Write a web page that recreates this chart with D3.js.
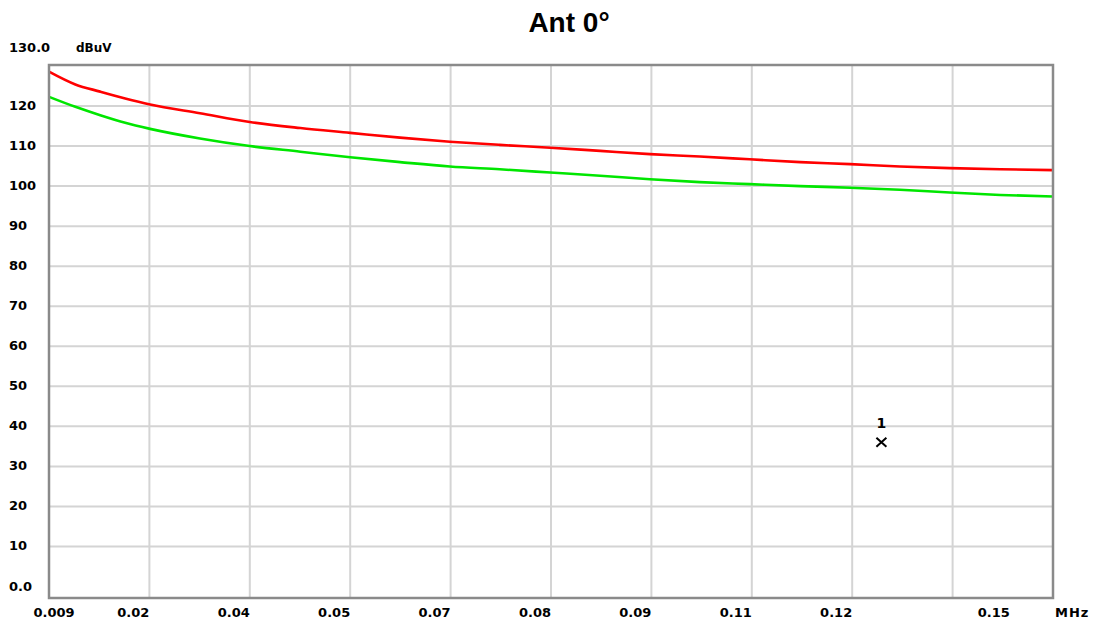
<!DOCTYPE html>
<html>
<head>
<meta charset="utf-8">
<script src="https://cdnjs.cloudflare.com/ajax/libs/d3/7.8.5/d3.min.js"></script>
<style>
  body { margin: 0; background: #fff; }
  svg { display: block; }
  .lbl { font-family: "DejaVu Sans", Verdana, sans-serif; font-weight: bold; font-size: 13px; fill: #000; }
</style>
</head>
<body>
<div class="content"></div>
<script>
// frequency (MHz) sample points
var freq = [0.009, 0.0127, 0.0162, 0.0197, 0.0232, 0.0302, 0.0372, 0.0443, 0.0513, 0.0583, 0.0653, 0.0723,
            0.0794, 0.0864, 0.0934, 0.1004, 0.1074, 0.1145, 0.1215, 0.1285, 0.1355, 0.1426, 0.15];
// level (dBuV)
var redTrace = [128.6, 125.4, 123.6, 121.9, 120.4, 118.2, 116.0, 114.5, 113.3, 112.1, 111.1, 110.3,
                109.6, 108.8, 108.0, 107.4, 106.7, 106.0, 105.5, 104.9, 104.5, 104.2, 104.0];
var greenTrace = [122.3, 119.8, 117.7, 115.8, 114.3, 111.9, 110.0, 108.6, 107.2, 106.0, 104.9, 104.2,
                  103.4, 102.6, 101.7, 101.0, 100.5, 100.0, 99.6, 99.1, 98.4, 97.8, 97.4];

var xTickLabels = ["0.009", "0.02", "0.04", "0.05", "0.07", "0.08", "0.09", "0.11", "0.12", "0.15"];
var yTicks = [120, 110, 100, 90, 80, 70, 60, 50, 40, 30, 20, 10, 0];
var yTickLabels = ["120", "110", "100", "90", "80", "70", "60", "50", "40", "30", "20", "10", "0.0"];

var markers = [{ name: "1", f: 0.1259, level: 36 }];

var W = 1094, H = 625;
var plotLeft = 49, plotRight = 1053, plotTop = 66, zeroY = 586.5, plotBottom = 598;

var svg = d3.select('.content').append('svg').attr('width', W).attr('height', H);

var x = d3.scaleLinear().domain([0.009, 0.15]).range([plotLeft, plotRight]);
var y = d3.scaleLinear().domain([0, 130]).range([zeroY, plotTop]);

var xGrid = d3.range(11).map(function(i) { return 0.009 + i * 0.0141; });

// grid (no line drawn at 0)
svg.append('g').selectAll('line').data(xGrid.slice(1, 10)).enter().append('line')
    .attr('x1', function(d) { return x(d); }).attr('x2', function(d) { return x(d); })
    .attr('y1', plotTop).attr('y2', plotBottom)
    .attr('stroke', '#d4d4d4').attr('stroke-width', 2);
svg.append('g').selectAll('line').data(yTicks.filter(function(d) { return d > 0; })).enter().append('line')
    .attr('x1', plotLeft).attr('x2', plotRight)
    .attr('y1', function(d) { return y(d); }).attr('y2', function(d) { return y(d); })
    .attr('stroke', '#d4d4d4').attr('stroke-width', 2);

// traces
var line = d3.line().curve(d3.curveMonotoneX)
    .x(function(d, i) { return x(freq[i]); }).y(function(d) { return y(d); });
svg.append('path').datum(greenTrace).attr('d', line)
    .attr('fill', 'none').attr('stroke', '#00e600').attr('stroke-width', 2.6);
svg.append('path').datum(redTrace).attr('d', line)
    .attr('fill', 'none').attr('stroke', '#ff0000').attr('stroke-width', 2.6);

// frame
svg.append('rect').attr('x', plotLeft).attr('y', plotTop - 1)
    .attr('width', plotRight - plotLeft).attr('height', plotBottom - plotTop + 1)
    .attr('fill', 'none').attr('stroke', '#8a8a8a').attr('stroke-width', 2.5);

// y labels
svg.append('g').selectAll('text').data(yTicks).enter().append('text')
    .attr('class', 'lbl').attr('x', 9).attr('y', function(d) { return y(d) + 4; })
    .text(function(d, i) { return yTickLabels[i]; });
svg.append('text').attr('class', 'lbl').attr('x', 9).attr('y', 52).text('130.0');
svg.append('text').attr('class', 'lbl').attr('x', 76).attr('y', 52).style('font-size', '12px').text('dBuV');

// x labels: right-aligned on the grid lines, first one centred, last one between lines
svg.append('g').selectAll('text').data(xTickLabels).enter().append('text')
    .attr('class', 'lbl')
    .attr('x', function(d, i) {
        if (i === 0) return x(xGrid[0]) + 5;
        if (i === 9) return (x(xGrid[9]) + x(xGrid[10])) / 2 - 9;
        return x(xGrid[i]);
    })
    .attr('text-anchor', function(d, i) { return (i === 0 || i === 9) ? 'middle' : 'end'; })
    .attr('y', 617)
    .text(function(d) { return d; });
svg.append('text').attr('class', 'lbl').attr('x', 1055).attr('y', 617).style('letter-spacing', '1px').text('MHz');

// marker
var mk = svg.append('g').selectAll('g').data(markers).enter().append('g');
mk.append('text').attr('class', 'lbl').attr('text-anchor', 'middle').style('font-size', '14px')
    .attr('x', function(d) { return x(d.f); }).attr('y', function(d) { return y(d.level) - 14; })
    .text(function(d) { return d.name; });
mk.append('path')
    .attr('d', function(d) {
        var cx = x(d.f), cy = y(d.level);
        return 'M' + (cx - 5) + ',' + (cy - 4.5) + 'L' + (cx + 5) + ',' + (cy + 4.5) +
               'M' + (cx + 5) + ',' + (cy - 4.5) + 'L' + (cx - 5) + ',' + (cy + 4.5);
    })
    .attr('stroke', '#000').attr('stroke-width', 2);

// title
svg.append('text').attr('x', 569).attr('y', 32).attr('text-anchor', 'middle')
    .style('font-family', '"Liberation Sans", Arial, sans-serif').style('font-weight', 'bold')
    .style('font-size', '28px').text('Ant 0°');
</script>
</body>
</html>
